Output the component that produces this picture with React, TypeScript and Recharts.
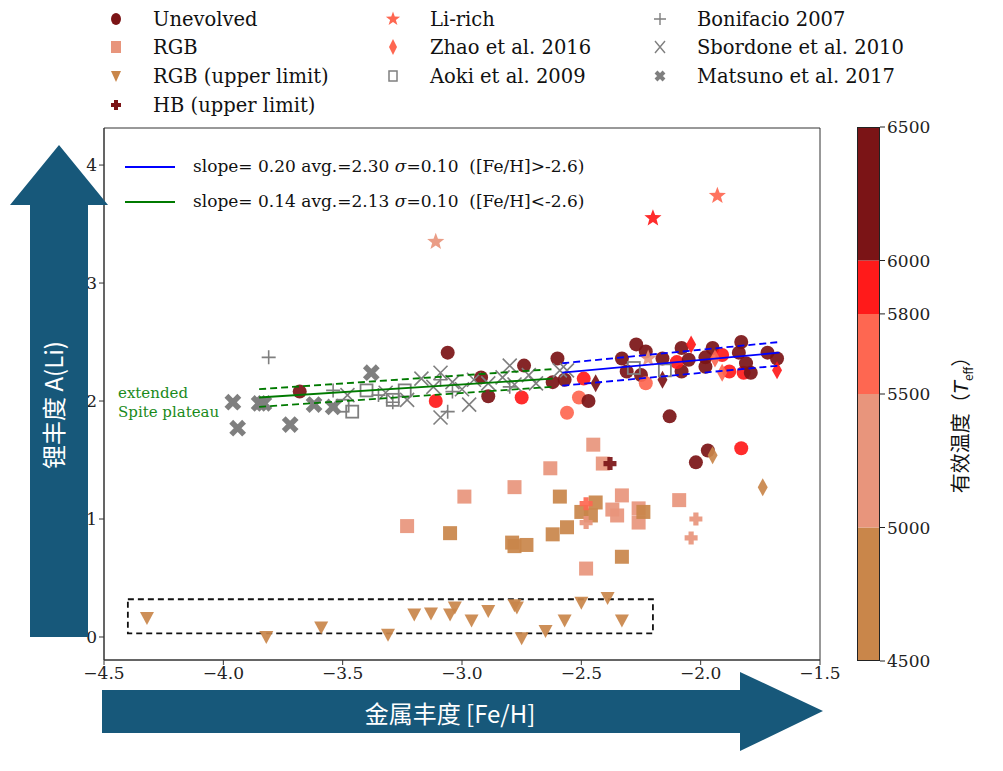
import React from "react";
import { ScatterChart, Scatter, XAxis, YAxis, ReferenceArea, BarChart, Bar } from "recharts";

const TEFF_COLORS = ["#c9864a", "#e8957c", "#fe6751", "#ff1a1a", "#7b1416"];
const GRAY = "#7f7f7f";

// [Fe/H, A(Li), Teff bin]
const unevolved = [
  [-3.68, 2.08, 4], [-3.06, 2.41, 4], [-2.92, 2.2, 4], [-2.89, 2.04, 4], [-2.74, 2.3, 4], [-2.6, 2.36, 4],
  [-2.62, 2.16, 4], [-2.57, 2.18, 4], [-3.11, 2.0, 3], [-2.75, 2.03, 3], [-2.56, 1.9, 2], [-2.51, 2.03, 2],
  [-2.49, 2.19, 3], [-2.47, 2.0, 4], [-2.33, 2.36, 4], [-2.27, 2.48, 4], [-2.23, 2.42, 4], [-2.31, 2.25, 4],
  [-2.25, 2.22, 4], [-2.23, 2.15, 2], [-2.16, 2.36, 4], [-2.13, 1.87, 4], [-2.08, 2.45, 4], [-2.08, 2.25, 4],
  [-2.1, 2.33, 3], [-2.05, 2.35, 4], [-1.98, 2.37, 4], [-1.98, 2.29, 4], [-1.95, 2.45, 4], [-1.91, 2.39, 3],
  [-1.88, 2.25, 3], [-1.84, 2.41, 4], [-1.83, 2.5, 4], [-1.82, 2.24, 3], [-1.81, 2.32, 4], [-1.79, 2.24, 4],
  [-1.72, 2.41, 4], [-1.68, 2.36, 4], [-1.97, 1.58, 4], [-2.02, 1.48, 4], [-1.83, 1.6, 3],
];
const rgb = [
  [-2.45, 1.63, 1], [-2.41, 1.47, 1], [-2.63, 1.43, 1], [-2.78, 1.27, 1], [-2.99, 1.19, 1], [-3.23, 0.94, 1],
  [-2.33, 1.2, 1], [-2.37, 1.08, 1], [-2.35, 1.03, 1], [-2.26, 1.09, 1], [-2.26, 0.97, 1], [-2.09, 1.16, 1],
  [-2.48, 0.58, 1], [-3.05, 0.88, 0], [-2.59, 1.19, 0], [-2.44, 1.14, 0], [-2.5, 1.06, 0], [-2.46, 1.03, 0],
  [-2.24, 1.06, 0], [-2.56, 0.93, 0], [-2.62, 0.87, 0], [-2.79, 0.8, 0], [-2.78, 0.77, 0], [-2.73, 0.78, 0],
  [-2.33, 0.68, 0],
];
const rgbUpper = [
  [-4.32, 0.16, 0], [-3.82, 0.0, 0], [-3.59, 0.08, 0], [-3.31, 0.02, 0], [-3.2, 0.19, 0], [-3.13, 0.2, 0],
  [-3.05, 0.19, 0], [-3.03, 0.25, 0], [-2.96, 0.14, 0], [-2.89, 0.22, 0], [-2.78, 0.27, 0], [-2.77, 0.25, 0],
  [-2.75, -0.01, 0], [-2.65, 0.05, 0], [-2.57, 0.14, 0], [-2.5, 0.29, 0], [-2.39, 0.33, 0], [-2.33, 0.14, 0],
];
const hbUpper = [[-2.38, 1.47, 4], [-2.48, 1.13, 2], [-2.48, 0.97, 1], [-2.02, 1.0, 1], [-2.04, 0.84, 1]];
const liRich = [[-3.11, 3.35, 1], [-2.2, 3.55, 3], [-1.93, 3.74, 2], [-2.22, 2.36, 1]];
const zhao = [
  [-2.04, 2.48, 3], [-2.44, 2.15, 4], [-2.16, 2.18, 4], [-1.94, 2.36, 2], [-1.91, 2.24, 2], [-1.68, 2.26, 3],
  [-1.95, 1.54, 0], [-1.74, 1.27, 0],
];
const bonifacio = [[-3.81, 2.37], [-3.54, 2.09], [-3.29, 1.99], [-3.06, 1.91], [-3.04, 2.08], [-3.09, 2.18], [-2.8, 2.12], [-3.35, 2.05]];
const sbordone = [
  [-3.48, 2.05], [-3.32, 2.07], [-3.23, 2.01], [-3.17, 2.19], [-3.09, 2.24], [-3.09, 1.86], [-3.04, 2.16],
  [-2.97, 1.97], [-2.95, 2.18], [-2.89, 2.15], [-2.83, 2.2], [-2.8, 2.3], [-2.78, 2.14], [-2.72, 2.22],
  [-2.69, 2.15], [-2.59, 2.26], [-2.56, 2.26], [-3.0, 2.1], [-3.12, 2.12],
];
const aoki = [[-3.46, 1.91], [-3.4, 2.09], [-3.29, 2.01], [-3.24, 2.09], [-2.28, 2.28], [-2.15, 2.26], [-3.5, 1.96]];
const matsuno = [[-3.96, 1.99], [-3.94, 1.77], [-3.85, 1.98], [-3.83, 1.98], [-3.72, 1.8], [-3.62, 1.97], [-3.54, 1.95], [-3.38, 2.24]];

const blueFit = [[-2.58, 2.24], [-1.67, 2.41]];
const blueUp = [[-2.58, 2.32], [-1.67, 2.5]];
const blueLo = [[-2.58, 2.13], [-1.67, 2.3]];
const greenFit = [[-3.85, 2.03], [-2.62, 2.19]];
const greenUp = [[-3.85, 2.1], [-2.62, 2.27]];
const greenLo = [[-3.85, 1.95], [-2.62, 2.12]];

const xTicks = [-4.5, -4.0, -3.5, -3.0, -2.5, -2.0, -1.5];
const yTicks = [0, 1, 2, 3, 4];
const cbTicks = [4500, 5000, 5500, 5800, 6000, 6500];
const cbData = [{ name: "cb", a: 5000, b: 500, c: 300, d: 200, e: 500 }];

const toPts = (a: number[][]) => a.map((p) => ({ x: p[0], y: p[1], c: p[2] ?? 0 }));
const col = (p: any) => TEFF_COLORS[p?.c ?? 0];

const circleShape = (props: any) => <circle cx={props.cx} cy={props.cy} r={7} fill={col(props.payload)} fillOpacity={0.92} />;
const squareShape = (props: any) => <rect x={props.cx - 7} y={props.cy - 7} width={14} height={14} fill={col(props.payload)} fillOpacity={0.92} />;
const triShape = (props: any) => {
  const { cx, cy } = props;
  return <polygon points={`${cx - 7},${cy - 6} ${cx + 7},${cy - 6} ${cx},${cy + 7}`} fill={col(props.payload)} fillOpacity={0.92} />;
};
const crossPath = (cx: number, cy: number, s: number, w: number) =>
  `M${cx - w},${cy - s}H${cx + w}V${cy - w}H${cx + s}V${cy + w}H${cx + w}V${cy + s}H${cx - w}V${cy + w}H${cx - s}V${cy - w}H${cx - w}Z`;
const hbShape = (props: any) => <path d={crossPath(props.cx, props.cy, 6.5, 2.6)} fill={col(props.payload)} fillOpacity={0.92} />;
const starShape = (props: any) => {
  const { cx, cy } = props;
  const pts: string[] = [];
  for (let i = 0; i < 10; i++) {
    const r = i % 2 === 0 ? 9 : 3.8;
    const a = -Math.PI / 2 + (i * Math.PI) / 5;
    pts.push(`${cx + r * Math.cos(a)},${cy + r * Math.sin(a)}`);
  }
  return <polygon points={pts.join(" ")} fill={col(props.payload)} fillOpacity={0.92} />;
};
const diamondShape = (props: any) => {
  const { cx, cy } = props;
  return <polygon points={`${cx},${cy - 9} ${cx + 5},${cy} ${cx},${cy + 9} ${cx - 5},${cy}`} fill={col(props.payload)} fillOpacity={0.92} />;
};
const plusShape = (props: any) => (
  <path d={`M${props.cx - 7},${props.cy}H${props.cx + 7}M${props.cx},${props.cy - 7}V${props.cy + 7}`} stroke={GRAY} strokeWidth={1.6} />
);
const xShape = (props: any) => (
  <path d={`M${props.cx - 7},${props.cy - 7}L${props.cx + 7},${props.cy + 7}M${props.cx + 7},${props.cy - 7}L${props.cx - 7},${props.cy + 7}`} stroke={GRAY} strokeWidth={1.6} />
);
const openSqShape = (props: any) => (
  <rect x={props.cx - 6} y={props.cy - 6} width={12} height={12} fill="none" stroke={GRAY} strokeWidth={1.8} />
);
const thickXShape = (props: any) => (
  <path d={`M${props.cx - 4.5},${props.cy - 4.5}L${props.cx + 4.5},${props.cy + 4.5}M${props.cx + 4.5},${props.cy - 4.5}L${props.cx - 4.5},${props.cy + 4.5}`} stroke={GRAY} strokeWidth={5.5} strokeLinecap="square" />
);
const noShape = () => <g />;

const fmtX = (v: number) => v.toFixed(1).replace("-", "\u2212");
const fmtY = (v: number) => String(v);

const serif = "'DejaVu Serif', serif";
const cjk = "'Noto Sans CJK SC', 'DejaVu Sans', sans-serif";

function LegendItem({ x, y, shape, color, label }: any) {
  const c = 9;
  let m: any;
  if (shape === "circle") m = <ellipse cx={c} cy={c} rx={5} ry={6} fill={color} />;
  else if (shape === "square") m = <rect x={c - 5} y={c - 6} width={10} height={12} fill={color} />;
  else if (shape === "tri") m = <polygon points={`${c - 5},${c - 5} ${c + 5},${c - 5} ${c},${c + 6}`} fill={color} />;
  else if (shape === "hb") m = <path d={crossPath(c, c, 5, 2)} fill={color} />;
  else if (shape === "star") m = <polygon points={Array.from({ length: 10 }, (_, i) => { const r = i % 2 ? 3 : 7.5; const a = -Math.PI / 2 + (i * Math.PI) / 5; return `${c + r * Math.cos(a)},${c + r * Math.sin(a)}`; }).join(" ")} fill={color} />;
  else if (shape === "diamond") m = <polygon points={`${c},${c - 8} ${c + 4},${c} ${c},${c + 8} ${c - 4},${c}`} fill={color} />;
  else if (shape === "plus") m = <path d={`M${c - 6},${c}H${c + 6}M${c},${c - 6}V${c + 6}`} stroke={GRAY} strokeWidth={1.4} />;
  else if (shape === "x") m = <path d={`M${c - 5},${c - 6}L${c + 5},${c + 6}M${c + 5},${c - 6}L${c - 5},${c + 6}`} stroke={GRAY} strokeWidth={1.4} />;
  else if (shape === "osq") m = <rect x={c - 4} y={c - 5} width={8} height={10} fill="none" stroke={GRAY} strokeWidth={1.5} />;
  else m = <path d={`M${c - 4},${c - 4}L${c + 4},${c + 4}M${c + 4},${c - 4}L${c - 4},${c + 4}`} stroke={GRAY} strokeWidth={4} />;
  return (
    <div style={{ position: "absolute", left: x, top: y - 12, height: 24, display: "flex", alignItems: "center" }}>
      <svg width={18} height={18} style={{ marginRight: 28 }}>{m}</svg>
      <span style={{ fontFamily: serif, fontSize: 19.5, color: "#111", whiteSpace: "nowrap" }}>{label}</span>
    </div>
  );
}

export default function App() {
  const S = (data: number[][], shape: any, key: string) => (
    <Scatter key={key} data={toPts(data)} shape={shape} isAnimationActive={false} />
  );
  const L = (data: number[][], color: string, dashed: boolean, key: string) => (
    <Scatter key={key} data={toPts(data)} shape={noShape} line={{ stroke: color, strokeWidth: 1.8, strokeDasharray: dashed ? "7 4" : undefined }} isAnimationActive={false} />
  );
  return (
    <div style={{ position: "absolute", left: 0, top: 0, width: 1003, height: 771, background: "#fff", overflow: "hidden" }}>
      <div style={{ position: "absolute", left: 0, top: 0 }}>
        <ScatterChart width={1003} height={771} margin={{ top: 128, right: 183, bottom: 81, left: 64 }}>
          <XAxis type="number" dataKey="x" domain={[-4.5, -1.5]} ticks={xTicks} tickFormatter={fmtX} allowDataOverflow
            height={30} stroke="#333" tick={{ fill: "#222", fontFamily: serif, fontSize: 17 }} tickSize={5} />
          <YAxis type="number" dataKey="y" domain={[-0.195, 4.314]} ticks={yTicks} tickFormatter={fmtY} allowDataOverflow
            width={40} stroke="#333" tick={{ fill: "#222", fontFamily: serif, fontSize: 17 }} tickSize={5} />
          <ReferenceArea x1={-4.4} x2={-2.2} y1={0.03} y2={0.32} fill="none" stroke="#111" strokeWidth={1.8} strokeDasharray="6 4" ifOverflow="visible" />
          {S(unevolved, circleShape, "u")}
          {S(rgb, squareShape, "r")}
          {S(rgbUpper, triShape, "ru")}
          {S(hbUpper, hbShape, "hb")}
          {S(zhao, diamondShape, "z")}
          {S(bonifacio, plusShape, "b")}
          {S(sbordone, xShape, "s")}
          {S(aoki, openSqShape, "a")}
          {S(matsuno, thickXShape, "m")}
          {S(liRich, starShape, "li")}
          {L(blueFit, "#0000ff", false, "bf")}
          {L(blueUp, "#0000ff", true, "bu")}
          {L(blueLo, "#0000ff", true, "bl")}
          {L(greenFit, "#007a00", false, "gf")}
          {L(greenUp, "#007a00", true, "gu")}
          {L(greenLo, "#007a00", true, "gl")}
          <ReferenceArea x1={-4.5} x2={-1.5} y1={-0.195} y2={4.314} fill="none" stroke="#333" strokeWidth={1} ifOverflow="visible" />
        </ScatterChart>
      </div>

      {/* in-plot legend */}
      <div style={{ position: "absolute", left: 125, top: 166, width: 50, height: 2, background: "#0000ff" }} />
      <div style={{ position: "absolute", left: 125, top: 201, width: 50, height: 2, background: "#007a00" }} />
      <div style={{ position: "absolute", left: 193, top: 156, fontFamily: serif, fontSize: 17, color: "#111", whiteSpace: "pre" }}>
        slope= 0.20 avg.=2.30 <i>σ</i>=0.10  ([Fe/H]&gt;-2.6)
      </div>
      <div style={{ position: "absolute", left: 193, top: 191, fontFamily: serif, fontSize: 17, color: "#111", whiteSpace: "pre" }}>
        slope= 0.14 avg.=2.13 <i>σ</i>=0.10  ([Fe/H]&lt;-2.6)
      </div>
      <div style={{ position: "absolute", left: 118, top: 384, fontFamily: serif, fontSize: 15, color: "#1a8a1a", lineHeight: "19px" }}>
        extended<br />Spite plateau
      </div>

      {/* top legend */}
      <LegendItem x={107} y={19} shape="circle" color="#7b1416" label="Unevolved" />
      <LegendItem x={107} y={47} shape="square" color="#e8957c" label="RGB" />
      <LegendItem x={107} y={76} shape="tri" color="#c9864a" label="RGB (upper limit)" />
      <LegendItem x={107} y={105} shape="hb" color="#7b1416" label="HB (upper limit)" />
      <LegendItem x={384} y={19} shape="star" color="#fe6751" label="Li-rich" />
      <LegendItem x={384} y={47} shape="diamond" color="#fe6751" label="Zhao et al. 2016" />
      <LegendItem x={384} y={76} shape="osq" color={GRAY} label="Aoki et al. 2009" />
      <LegendItem x={651} y={19} shape="plus" color={GRAY} label="Bonifacio 2007" />
      <LegendItem x={651} y={47} shape="x" color={GRAY} label="Sbordone et al. 2010" />
      <LegendItem x={651} y={76} shape="mx" color={GRAY} label="Matsuno et al. 2017" />

      {/* colorbar */}
      <div style={{ position: "absolute", left: 857, top: 117 }}>
        <BarChart width={120} height={554} data={cbData} margin={{ top: 10, right: 0, bottom: 10, left: 0 }} barCategoryGap={0}>
          <XAxis dataKey="name" hide />
          <YAxis orientation="right" width={97} domain={[4500, 6500]} ticks={cbTicks} allowDataOverflow stroke="#222"
            tick={{ fill: "#222", fontFamily: serif, fontSize: 17 }} tickSize={5} axisLine={false} interval={0} />
          <Bar dataKey="a" stackId="t" fill={TEFF_COLORS[0]} isAnimationActive={false} />
          <Bar dataKey="b" stackId="t" fill={TEFF_COLORS[1]} isAnimationActive={false} />
          <Bar dataKey="c" stackId="t" fill={TEFF_COLORS[2]} isAnimationActive={false} />
          <Bar dataKey="d" stackId="t" fill={TEFF_COLORS[3]} isAnimationActive={false} />
          <Bar dataKey="e" stackId="t" fill={TEFF_COLORS[4]} isAnimationActive={false} />
        </BarChart>
        <div style={{ position: "absolute", left: 0, top: 10, width: 23, height: 534, border: "1px solid #222", boxSizing: "border-box" }} />
      </div>
      <div style={{ position: "absolute", left: 960, top: 420, transform: "translate(-50%,-50%) rotate(-90deg)", fontFamily: cjk, fontSize: 20, color: "#111", whiteSpace: "nowrap" }}>
        有效温度（<i style={{ fontFamily: "'DejaVu Sans', sans-serif" }}>T</i><sub style={{ fontSize: 12 }}>eff</sub>）
      </div>

      {/* arrows */}
      <svg width={1003} height={771} style={{ position: "absolute", left: 0, top: 0, pointerEvents: "none" }}>
        <polygon points="30,637 88,637 88,205 108,205 59,145 10,205 30,205" fill="#17587a" />
        <polygon points="102,690 740,690 740,672 823,711 740,751 740,733 102,733" fill="#17587a" />
        <text x={52} y={405} transform="rotate(-90 52 405)" textAnchor="middle" dominantBaseline="central" fill="#fff" fontFamily={cjk} fontSize={24}>锂丰度 A(Li)</text>
        <text x={450} y={712} textAnchor="middle" dominantBaseline="central" fill="#fff" fontFamily={cjk} fontSize={24}>金属丰度 [Fe/H]</text>
      </svg>
    </div>
  );
}
